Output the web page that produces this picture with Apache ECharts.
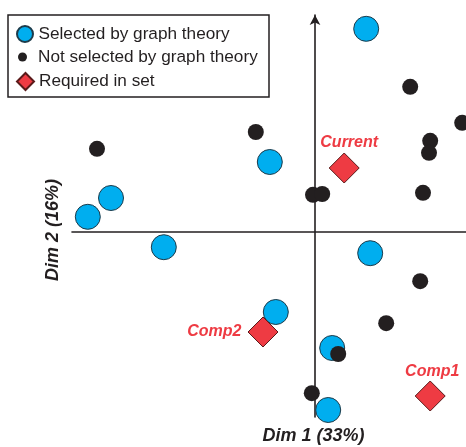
<!DOCTYPE html>
<html>
<head>
<meta charset="utf-8">
<script src="https://cdn.jsdelivr.net/npm/echarts@6/dist/echarts.min.js"></script>
<style>
html,body{margin:0;padding:0;background:#fff;}
#c{width:466px;height:447px;}
</style>
</head>
<body>
<div id="c"></div>
<script>
// ---- data (Dim 1, Dim 2 scores) ----
var seriesNames = ['Selected by graph theory', 'Not selected by graph theory', 'Required in set'];
var selected = [
  [1.28, 5.08], [-1.13, 1.75], [-5.10, 0.85], [-5.68, 0.38], [-3.78, -0.38],
  [1.38, -0.53], [-0.98, -2.00], [0.43, -2.90], [0.33, -4.45]
];
var notSelected = [
  [-5.45, 2.08], [-1.48, 2.50], [2.38, 3.63], [3.68, 2.73], [2.88, 2.28],
  [2.85, 1.98], [2.70, 0.98], [-0.05, 0.93], [0.18, 0.95], [2.63, -1.23],
  [1.78, -2.28], [0.58, -3.05], [-0.08, -4.03]
];
var requiredNames = ['Current', 'Comp2', 'Comp1'];
var required = [[0.73, 1.60], [-1.30, -2.50], [2.88, -4.10]];
var xTitle = 'Dim 1 (33%)';
var yTitle = 'Dim 2 (16%)';

// ---- styling ----
var FONT = '"Liberation Sans", Arial, sans-serif';
var RED = '#EE3B43', BLUE = '#00AEEF', BLACK = '#231F20';
var labelPos = { 'Current': {position: 'top', distance: 2, offset: [5, 0]},
                 'Comp2': {position: 'left', distance: 6, offset: [0, 0]},
                 'Comp1': {position: 'top', distance: 1, offset: [2, 0]} };

var reqData = required.map(function (p, i) {
  var lp = labelPos[requiredNames[i]];
  return {
    name: requiredNames[i], value: p,
    label: {show: true, formatter: '{b}', position: lp.position, distance: lp.distance, offset: lp.offset}
  };
});

var chart = echarts.init(document.getElementById('c'), null, {renderer: 'canvas'});
function legendText(padLeft) {
  return {fontFamily: FONT, fontSize: 17.2, color: BLACK, padding: [0, 0, 0, padLeft]};
}
chart.setOption({
  animation: false,
  backgroundColor: '#fff',
  grid: {left: 72, right: 0, top: 15, bottom: 30},
  xAxis: {
    type: 'value', min: -6.075, max: 3.775,
    axisLine: {onZero: true, lineStyle: {color: BLACK, width: 1.6}},
    axisTick: {show: false}, axisLabel: {show: false}, splitLine: {show: false}
  },
  yAxis: {
    type: 'value', min: -4.625, max: 5.425,
    axisLine: {onZero: true, symbol: ['none', 'arrow'], symbolSize: [8, 10], symbolOffset: [0, 0],
      lineStyle: {color: BLACK, width: 1.6}},
    axisTick: {show: false}, axisLabel: {show: false}, splitLine: {show: false}
  },
  legend: [
    {data: [seriesNames[0]], left: 16, top: 25, padding: 0, itemWidth: 17, itemHeight: 16, textStyle: legendText(0), selectedMode: false},
    {data: [seriesNames[1]], left: 18, top: 48.5, padding: 0, itemWidth: 9, itemHeight: 9, textStyle: legendText(6), selectedMode: false},
    {data: [seriesNames[2]], left: 16, top: 72, padding: 0, itemWidth: 17, itemHeight: 17, textStyle: legendText(0), selectedMode: false}
  ],
  graphic: [
    {type: 'rect', shape: {x: 8, y: 15, width: 261, height: 82}, style: {fill: 'none', stroke: BLACK, lineWidth: 1.5}, z: 100},
    {type: 'text', x: 313.5, y: 436, style: {text: xTitle, font: 'italic bold 18px ' + FONT, fill: BLACK, textAlign: 'center', textVerticalAlign: 'middle'}},
    {type: 'text', x: 53, y: 230, rotation: Math.PI / 2, style: {text: yTitle, font: 'italic bold 18px ' + FONT, fill: BLACK, textAlign: 'center', textVerticalAlign: 'middle'}}
  ],
  series: [
    {name: seriesNames[0], type: 'scatter', data: selected, symbol: 'circle', symbolSize: 25,
      itemStyle: {color: BLUE, borderColor: '#1d3b4a', borderWidth: 1, opacity: 1}, z: 2},
    {name: seriesNames[1], type: 'scatter', data: notSelected, symbol: 'circle', symbolSize: 16,
      itemStyle: {color: BLACK, opacity: 1}, z: 3},
    {name: seriesNames[2], type: 'scatter', data: reqData, symbol: 'diamond', symbolSize: 30,
      itemStyle: {color: RED, borderColor: '#5a1a1a', borderWidth: 1, opacity: 1}, z: 4,
      label: {fontFamily: FONT, fontSize: 16, fontWeight: 'bold', fontStyle: 'italic', color: RED}}
  ]
});
</script>
</body>
</html>
